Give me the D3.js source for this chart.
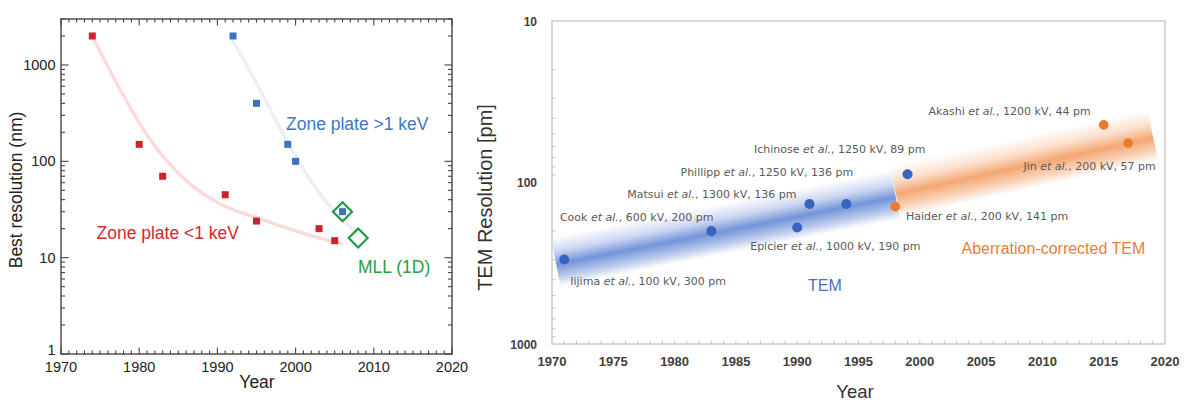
<!DOCTYPE html>
<html>
<head>
<meta charset="utf-8">
<script src="https://cdn.jsdelivr.net/npm/d3@7"></script>
<style>
  body { margin: 0; background: #fff; }
  svg { display: block; font-family: "Liberation Sans", Arial, sans-serif; }
</style>
</head>
<body>
<svg id="chart" width="1190" height="405"></svg>
<script>
// ---------- left panel : x-ray zone plates ----------
let softYears = [1974, 1980, 1983, 1991, 1995, 2003, 2005];
let softRes = [2000, 150, 70, 45, 24, 20, 15];
let hardYears = [1992, 1995, 1999, 2000, 2006];
let hardRes = [2000, 400, 150, 100, 30];
let mllYears = [2006, 2008];
let mllRes = [30, 16];
// hand-drawn trend curves
let softTrendYears = [1974, 1977.1, 1981.4, 1986, 1991, 1995, 2000.6, 2006];
let softTrendRes = [2000, 650, 168, 63, 34, 26, 18.3, 13.8];
let hardTrendYears = [1991.6, 1995, 1998.8, 2003, 2007.8];
let hardTrendRes = [2000, 650, 168, 47, 18];
let leftXTicks = [1970, 1980, 1990, 2000, 2010, 2020];
let leftYTicks = [1, 10, 100, 1000];

// ---------- right panel : TEM resolution ----------
let temAuthors = ["Iijima", "Cook", "Epicier", "Matsui", "Phillipp", "Ichinose"];
let temYears = [1971, 1983, 1990, 1991, 1994, 1999];
let temKV = [100, 600, 1000, 1300, 1250, 1250];
let temRes = [300, 200, 190, 136, 136, 89];
let acAuthors = ["Haider", "Akashi", "Jin"];
let acYears = [1998, 2015, 2017];
let acKV = [200, 1200, 200];
let acRes = [141, 44, 57];
let temBandYears = [1970.3, 1998];
let temBandRes = [310, 119];
let acBandYears = [1998, 2019];
let acBandRes = [114, 51];
let rightXTicks = [1970, 1975, 1980, 1985, 1990, 1995, 2000, 2005, 2010, 2015, 2020];
let rightYTicks = [10, 100, 1000];

// where each annotation sits relative to its dot
let labelPlace = {
  Iijima:   {anchor: "start", dx: 6,   dy: 25.5},
  Cook:     {anchor: "end",   dx: 2,   dy: -10.5},
  Epicier:  {anchor: "start", dx: -47, dy: 22.5},
  Matsui:   {anchor: "end",   dx: -13, dy: -5.7},
  Phillipp: {anchor: "end",   dx: 7,   dy: -28},
  Ichinose: {anchor: "end",   dx: 18,  dy: -21.6},
  Haider:   {anchor: "start", dx: 10.7, dy: 13.4},
  Akashi:   {anchor: "end",   dx: -13, dy: -10},
  Jin:      {anchor: "end",   dx: 27.5, dy: 27}
};

const svg = d3.select("#chart");

// ======================= LEFT =======================
function drawLeft() {
  const x = d3.scaleLinear().domain([1970, 2020]).range([61, 452]);
  const y = d3.scaleLog().domain([1, 3000]).range([354, 19]);
  const g = svg.append("g");
  const x0 = 61, x1 = 452, y0 = 354, y1 = 19;

  // minor / major ticks, mirrored on all sides, pointing inward
  let years = d3.range(1970, 2021);
  let ticks = g.append("g").attr("stroke", "#444").attr("stroke-width", 1.1);
  years.forEach(yr => {
    let len = yr % 10 === 0 ? 6.5 : 3.5;
    ticks.append("line").attr("x1", x(yr)).attr("x2", x(yr)).attr("y1", y0).attr("y2", y0 - len);
    ticks.append("line").attr("x1", x(yr)).attr("x2", x(yr)).attr("y1", y1).attr("y2", y1 + len);
  });
  y.ticks().forEach(v => {
    if (v > 3000) return;
    let len = leftYTicks.includes(v) ? 7.5 : 4;
    ticks.append("line").attr("x1", x0).attr("x2", x0 + len).attr("y1", y(v)).attr("y2", y(v));
    ticks.append("line").attr("x1", x1).attr("x2", x1 - len).attr("y1", y(v)).attr("y2", y(v));
  });

  g.append("rect").attr("x", x0).attr("y", y1).attr("width", x1 - x0).attr("height", y0 - y1)
    .attr("fill", "none").attr("stroke", "#444").attr("stroke-width", 1.4);

  g.selectAll(".lx").data(leftXTicks).join("text")
    .attr("x", d => x(d)).attr("y", 372).attr("text-anchor", "middle")
    .attr("font-size", 14.5).attr("fill", "#222").text(d => d);
  // the bottom "1" sits a little higher so it clears 1970
  g.selectAll(".ly").data(leftYTicks).join("text")
    .attr("x", 55.5).attr("y", d => y(d) + (d === 1 ? 1 : 5)).attr("text-anchor", "end")
    .attr("font-size", 14.5).attr("fill", "#222").text(d => d);

  g.append("text").attr("x", 257).attr("y", 388).attr("text-anchor", "middle")
    .attr("font-size", 17.5).attr("fill", "#222").text("Year");
  g.append("text").attr("transform", "translate(21.5,190) rotate(-90)").attr("text-anchor", "middle")
    .attr("font-size", 17.5).attr("fill", "#222").text("Best resolution (nm)");

  // trend curves
  const line = d3.line().x(d => x(d[0])).y(d => y(d[1])).curve(d3.curveMonotoneX);
  g.append("path").attr("d", line(d3.zip(softTrendYears, softTrendRes)))
    .attr("fill", "none").attr("stroke", "#fcdada").attr("stroke-width", 3.5);
  g.append("path").attr("d", line(d3.zip(hardTrendYears, hardTrendRes)))
    .attr("fill", "none").attr("stroke", "#ebeff6").attr("stroke-width", 3.5);

  const sq = 7;
  g.selectAll(".soft").data(d3.zip(softYears, softRes)).join("rect")
    .attr("x", d => x(d[0]) - sq / 2).attr("y", d => y(d[1]) - sq / 2)
    .attr("width", sq).attr("height", sq).attr("fill", "#d0212d");
  g.selectAll(".hard").data(d3.zip(hardYears, hardRes)).join("rect")
    .attr("x", d => x(d[0]) - sq / 2).attr("y", d => y(d[1]) - sq / 2)
    .attr("width", sq).attr("height", sq).attr("fill", "#3a72bf");
  const r = 9.5;
  g.selectAll(".mll").data(d3.zip(mllYears, mllRes)).join("path")
    .attr("d", d => `M${x(d[0])},${y(d[1]) - r}L${x(d[0]) + r},${y(d[1])}L${x(d[0])},${y(d[1]) + r}L${x(d[0]) - r},${y(d[1])}Z`)
    .attr("fill", "none").attr("stroke", "#1f9a45").attr("stroke-width", 2.2);

  g.append("text").attr("x", 286).attr("y", 130).attr("font-size", 17.5)
    .attr("fill", "#3c78c3").text("Zone plate >1 keV");
  g.append("text").attr("x", 96.5).attr("y", 238.5).attr("font-size", 17.5)
    .attr("fill", "#d4282f").text("Zone plate <1 keV");
  g.append("text").attr("x", 358).attr("y", 272.5).attr("font-size", 17.5)
    .attr("fill", "#2ba046").text("MLL (1D)");
}

// ======================= RIGHT =======================
function drawRight() {
  const x = d3.scaleLinear().domain([1970, 2020]).range([552, 1165]);
  const y = d3.scaleLog().domain([10, 1000]).range([21, 344]);
  const g = svg.append("g");
  const defs = svg.append("defs");
  const x0 = 552, x1 = 1165, y0 = 344, y1 = 21;

  // gradient bands along the trend
  function band(id, yrs, res, color, half) {
    let p0 = [x(yrs[0]), y(res[0])], p1 = [x(yrs[1]), y(res[1])];
    let dx = p1[0] - p0[0], dy = p1[1] - p0[1], L = Math.hypot(dx, dy);
    let n = [dy / L, -dx / L];
    let mid = [(p0[0] + p1[0]) / 2, (p0[1] + p1[1]) / 2];
    let grad = defs.append("linearGradient").attr("id", id).attr("gradientUnits", "userSpaceOnUse")
      .attr("x1", mid[0] + n[0] * half).attr("y1", mid[1] + n[1] * half)
      .attr("x2", mid[0] - n[0] * half).attr("y2", mid[1] - n[1] * half);
    [[0, 0], [0.3, 0.3], [0.55, 0.8], [0.8, 0.4], [1, 0]].forEach(s => {
      grad.append("stop").attr("offset", s[0]).attr("stop-color", color).attr("stop-opacity", s[1]);
    });
    let pts = [
      [p0[0] + n[0] * half, p0[1] + n[1] * half],
      [p1[0] + n[0] * half, p1[1] + n[1] * half],
      [p1[0] - n[0] * half, p1[1] - n[1] * half],
      [p0[0] - n[0] * half, p0[1] - n[1] * half]
    ];
    g.append("path").attr("d", "M" + pts.join("L") + "Z").attr("fill", `url(#${id})`);
  }
  band("temBand", temBandYears, temBandRes, "#5179cf", 25);
  band("acBand", acBandYears, acBandRes, "#f19150", 26);

  // frame + inner ticks
  g.append("rect").attr("x", x0).attr("y", y1).attr("width", x1 - x0).attr("height", y0 - y1)
    .attr("fill", "none").attr("stroke", "#cfcfcf").attr("stroke-width", 1.6);
  let ticks = g.append("g").attr("stroke", "#c4c4c4").attr("stroke-width", 1);
  d3.range(1971, 2020).forEach(yr => {
    ticks.append("line").attr("x1", x(yr)).attr("x2", x(yr)).attr("y1", y0).attr("y2", y0 - 3.5);
  });
  y.ticks().forEach(v => {
    if (rightYTicks.includes(v)) return;
    ticks.append("line").attr("x1", x0).attr("x2", x0 + 3.5).attr("y1", y(v)).attr("y2", y(v));
  });

  g.selectAll(".rx").data(rightXTicks).join("text")
    .attr("x", d => x(d)).attr("y", 366).attr("text-anchor", "middle")
    .attr("font-size", 13).attr("font-weight", "bold").attr("fill", "#404040").text(d => d);
  g.selectAll(".ry").data(rightYTicks).join("text")
    .attr("x", 537).attr("y", d => y(d) + 4.5).attr("text-anchor", "end")
    .attr("font-size", 12).attr("font-weight", "bold").attr("fill", "#404040").text(d => d);

  g.append("text").attr("x", 855).attr("y", 398).attr("text-anchor", "middle")
    .attr("font-size", 18.5).attr("fill", "#333").text("Year");
  g.append("text").attr("transform", "translate(492,197.5) rotate(-90)").attr("text-anchor", "middle")
    .attr("font-size", 20).attr("fill", "#333").text("TEM Resolution [pm]");

  // dots
  g.selectAll(".tem").data(d3.zip(temYears, temRes)).join("circle")
    .attr("cx", d => x(d[0])).attr("cy", d => y(d[1])).attr("r", 5).attr("fill", "#3564c1");
  g.selectAll(".ac").data(d3.zip(acYears, acRes)).join("circle")
    .attr("cx", d => x(d[0])).attr("cy", d => y(d[1])).attr("r", 4.8).attr("fill", "#ec7a2e");

  // annotations
  let notes = d3.zip(temAuthors, temYears, temKV, temRes).concat(d3.zip(acAuthors, acYears, acKV, acRes));
  notes.forEach(d => {
    let p = labelPlace[d[0]];
    let t = g.append("text").attr("x", x(d[1]) + p.dx).attr("y", y(d[3]) + p.dy)
      .attr("text-anchor", p.anchor).attr("font-family", "'DejaVu Sans', Verdana, sans-serif")
      .attr("font-size", 11).attr("fill", "#5a5a5a");
    t.append("tspan").text(d[0] + " ");
    t.append("tspan").attr("font-style", "italic").text("et al.");
    t.append("tspan").text(`, ${d[2]} kV, ${d[3]} pm`);
  });

  g.append("text").attr("x", 808).attr("y", 291).attr("font-size", 16)
    .attr("fill", "#4a70c0").text("TEM");
  g.append("text").attr("x", 961.5).attr("y", 254).attr("font-size", 16)
    .attr("fill", "#ee7d32").text("Aberration-corrected TEM");
}

drawLeft();
drawRight();
</script>
</body>
</html>
